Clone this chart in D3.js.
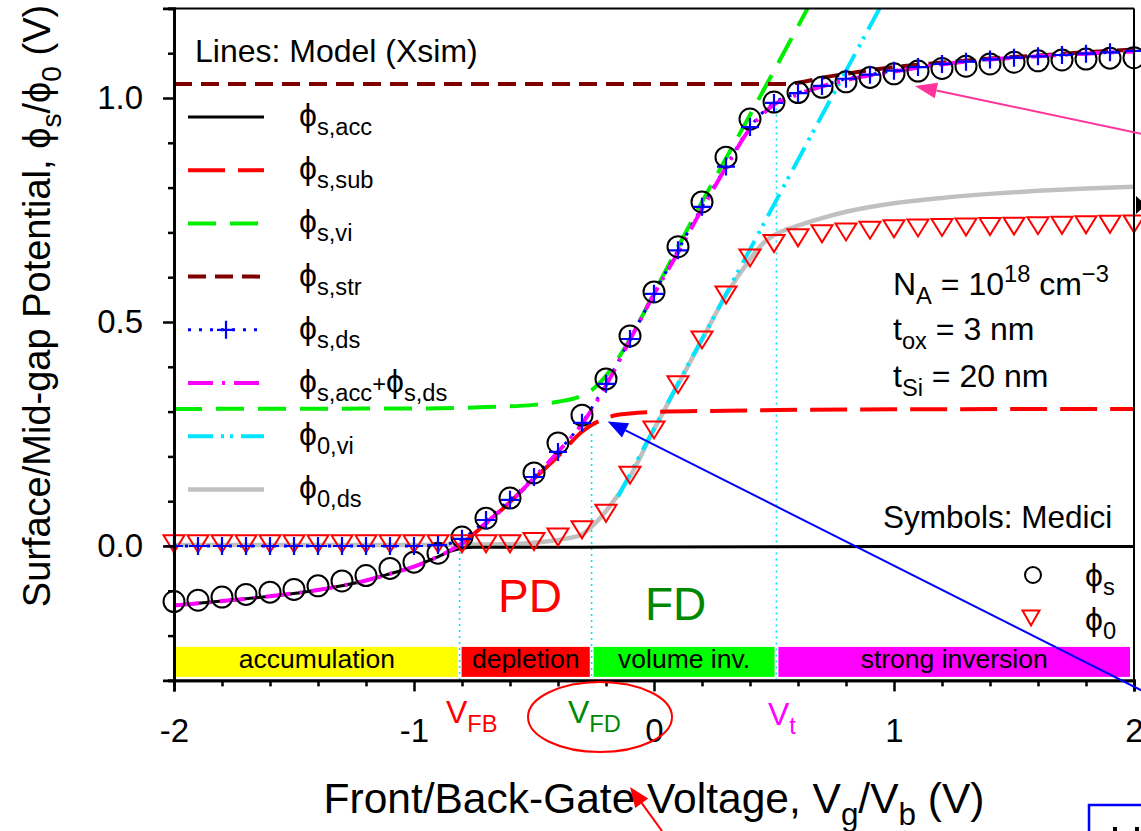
<!DOCTYPE html>
<html>
<head>
<meta charset="utf-8">
<script src="https://cdn.jsdelivr.net/npm/d3@7"></script>
<style>
  html, body { margin: 0; padding: 0; background: #fff; }
  svg { display: block; font-family: "Liberation Sans", Arial, sans-serif; }
</style>
</head>
<body>
<svg id="chart" width="1141" height="831"></svg>
<script>
// ---- Medici device simulation (symbols), sampled every 0.1 V ----
const gateV = [-2.0,-1.9,-1.8,-1.7,-1.6,-1.5,-1.4,-1.3,-1.2,-1.1,-1.0,-0.9,-0.8,-0.7,-0.6,-0.5,-0.4,-0.3,-0.2,-0.1,0.0,0.1,0.2,0.3,0.4,0.5,0.6,0.7,0.8,0.9,1.0,1.1,1.2,1.3,1.4,1.5,1.6,1.7,1.8,1.9,2.0];
const mediciPhiS = [-0.124,-0.121,-0.114,-0.108,-0.103,-0.097,-0.089,-0.078,-0.066,-0.050,-0.036,-0.016,0.020,0.062,0.107,0.163,0.230,0.292,0.373,0.469,0.567,0.668,0.768,0.868,0.953,0.991,1.012,1.024,1.036,1.046,1.054,1.060,1.066,1.071,1.076,1.080,1.083,1.085,1.087,1.089,1.090];
const mediciPhi0 = [0.005,0.005,0.005,0.005,0.005,0.005,0.005,0.005,0.005,0.005,0.005,0.005,0.005,0.005,0.005,0.010,0.020,0.036,0.073,0.158,0.259,0.360,0.460,0.560,0.643,0.675,0.688,0.697,0.701,0.705,0.708,0.710,0.711,0.712,0.713,0.714,0.715,0.716,0.717,0.718,0.719];

// ---- Xsim model curves ----
// phi_s,ds (evaluated on the same 0.1 V grid, drawn with + markers)
const dsPhi = [0,0,0,0,0,0,0,0,0,0,0,0.002,0.016,0.058,0.103,0.154,0.210,0.275,0.362,0.462,0.563,0.660,0.757,0.847,0.935,0.989,1.011,1.027,1.043,1.052,1.061,1.069,1.076,1.081,1.086,1.090,1.093,1.096,1.099,1.102,1.105];

const accGate = [-2.0,-1.8,-1.6,-1.4,-1.2,-1.1,-1.0,-0.9,-0.85,-0.8,-0.75,-0.6,-0.3,0.0,1.0,2.0];
const accPhi  = [-0.133,-0.123,-0.112,-0.098,-0.077,-0.062,-0.046,-0.024,-0.012,-0.005,-0.003,-0.003,-0.003,-0.002,-0.001,-0.001];

const subGate = [-0.81,-0.7,-0.6,-0.5,-0.4,-0.3,-0.26,-0.22,-0.15,-0.1,0.0,0.3,0.6,1.0,2.0];
const subPhi  = [0.0,0.05,0.098,0.15,0.2,0.255,0.27,0.281,0.293,0.296,0.299,0.302,0.304,0.305,0.306];

const viGate = [-2.0,-1.0,-0.7,-0.5,-0.4,-0.3,-0.25,-0.2,-0.15,-0.1,0.0,0.2,0.4,0.6,0.64];
const viPhi  = [0.306,0.307,0.310,0.315,0.322,0.336,0.352,0.38,0.418,0.462,0.565,0.768,0.962,1.16,1.20];

const strGate = [-2.0,0.55,0.6,0.7,0.8,0.9,1.0,1.2,1.4,1.6,1.8,2.0];
const strPhi  = [1.031,1.031,1.034,1.045,1.054,1.062,1.069,1.079,1.088,1.095,1.102,1.108];

const accDsGate = [-2.0,-1.8,-1.6,-1.4,-1.2,-1.1,-1.0,-0.9,-0.85,-0.8,-0.7,-0.6,-0.5,-0.4,-0.3,-0.2,-0.1,0.0,0.1,0.2,0.3,0.4,0.5,0.6,0.7,0.8,1.0,1.2,1.4,1.6,1.8,2.0];
const accDsPhi  = [-0.133,-0.123,-0.112,-0.098,-0.077,-0.062,-0.046,-0.024,-0.010,0.006,0.052,0.098,0.152,0.210,0.272,0.358,0.460,0.562,0.655,0.752,0.845,0.932,0.985,1.008,1.026,1.040,1.059,1.075,1.086,1.093,1.099,1.104];

const ovGate = [-0.15,0.0,0.3,0.6,0.94];
const ovPhi  = [0.11,0.262,0.562,0.862,1.20];

const odGate = [-2.0,-1.0,-0.6,-0.45,-0.35,-0.3,-0.25,-0.2,-0.1,0.0,0.1,0.2,0.3,0.4,0.45,0.5,0.55,0.6,0.7,0.8,1.0,1.2,1.4,1.6,1.8,2.0];
const odPhi  = [0.002,0.002,0.004,0.010,0.018,0.026,0.048,0.078,0.155,0.26,0.36,0.46,0.56,0.64,0.673,0.694,0.706,0.715,0.732,0.746,0.765,0.777,0.786,0.793,0.798,0.802];

// ---- operating regions and characteristic voltages ----
const VFB = -0.81, VFD = -0.26, VT = 0.51;
const regionEdges = [-2.0, VFB, VFD, VT, 2.0];
const regionNames = ["accumulation", "depletion", "volume inv.", "strong inversion"];
const markerVoltages = [VFB, VFD, VT];
const markerTops = [0.0, 0.25, 0.99];

// ---- axis ticks ----
const xMajor = [-2, -1, 0, 1, 2];
const xMinor = [-1.8,-1.6,-1.4,-1.2,-0.8,-0.6,-0.4,-0.2,0.2,0.4,0.6,0.8,1.2,1.4,1.6,1.8];
const yMajor = [0.0, 0.5, 1.0];
const yMinor = [-0.3,-0.2,-0.1,0.1,0.2,0.3,0.4,0.6,0.7,0.8,0.9,1.1,1.2];

// ---- legend entries ----
const legendNames = [
  [["ϕ"],["s,acc","sub"]],
  [["ϕ"],["s,sub","sub"]],
  [["ϕ"],["s,vi","sub"]],
  [["ϕ"],["s,str","sub"]],
  [["ϕ"],["s,ds","sub"]],
  [["ϕ"],["s,acc","sub"],["+","mid"],["ϕ"],["s,ds","sub"]],
  [["ϕ"],["0,vi","sub"]],
  [["ϕ"],["0,ds","sub"]]
];

// ===================== drawing =====================
const svg = d3.select("#chart");
const plot = { left: 174, right: 1134, top: 8.4, bottom: 680.4 };

const x = d3.scaleLinear().domain([-2, 2]).range([plot.left, plot.right]);
const y = d3.scaleLinear().domain([-0.3, 1.2]).range([plot.bottom, plot.top]);

svg.append("defs").append("clipPath").attr("id", "plotClip")
  .append("rect").attr("x", plot.left).attr("y", plot.top)
  .attr("width", plot.right - plot.left).attr("height", plot.bottom - plot.top);

// styles for each curve
const styles = {
  acc:  { color: "#000000", width: 3,   dash: null },
  sub:  { color: "#ff0000", width: 4,   dash: "37,13" },
  vi:   { color: "#00ee00", width: 4,   dash: "28,14" },
  str:  { color: "#800000", width: 4,   dash: "18,9" },
  ds:   { color: "#0000ff", width: 3,   dash: "3,8" },
  accds:{ color: "#ff00ff", width: 4,   dash: "25,9,3,9" },
  ovi:  { color: "#00e5ff", width: 4,   dash: "25,8,3,6,3,8" },
  ods:  { color: "#c0c0c0", width: 4.5, dash: null }
};

function rich(sel, px, py, segs, size, color, anchor) {
  const t = sel.append("text").attr("x", px).attr("y", py)
    .attr("font-size", size).attr("fill", color)
    .attr("text-anchor", anchor || "start");
  let cur = 0;
  segs.forEach(([txt, kind]) => {
    let off = 0, fs = size;
    if (kind === "sub") { off = size * 0.28; fs = size * 0.74; }
    else if (kind === "sup") { off = -size * 0.42; fs = size * 0.74; }
    else if (kind === "mid") { off = 0; fs = size * 0.74; }
    t.append("tspan").attr("dy", off - cur).attr("font-size", fs).text(txt);
    cur = off;
  });
  return t;
}

// region bars
const barTop = y(-0.3) - 33.5, barBot = y(-0.3) - 3.5;
const regionFill = ["#ffff00", "#ff0000", "#00ff00", "#ff00ff"];
const bars = svg.append("g");
regionNames.forEach((name, i) => {
  const x0 = x(regionEdges[i]) + 2, x1 = x(regionEdges[i + 1]) - (i === 3 ? 4 : 1.8);
  bars.append("rect").attr("x", x0).attr("y", barTop).attr("width", x1 - x0).attr("height", barBot - barTop)
    .attr("fill", regionFill[i]);
  bars.append("text").attr("x", (x0 + x1) / 2).attr("y", barBot - 9)
    .attr("text-anchor", "middle").attr("font-size", 26.5).attr("fill", "#000").text(name);
});

// dotted markers of the characteristic voltages
markerVoltages.forEach((v, i) => {
  svg.append("line").attr("x1", x(v)).attr("x2", x(v))
    .attr("y1", y(markerTops[i])).attr("y2", y(-0.3))
    .attr("stroke", "#00e5ff").attr("stroke-width", 1.6).attr("stroke-dasharray", "2,4");
});

// model curves
const curves = svg.append("g").attr("clip-path", "url(#plotClip)");
function curve(gates, vals, st) {
  const line = d3.line().x(d => x(d[0])).y(d => y(d[1])).curve(d3.curveMonotoneX);
  curves.append("path").datum(gates.map((g, i) => [g, vals[i]]))
    .attr("d", line).attr("fill", "none")
    .attr("stroke", st.color).attr("stroke-width", st.width)
    .attr("stroke-dasharray", st.dash)
    .attr("stroke-linecap", st.dash ? "butt" : "round")
    .attr("stroke-linejoin", "round");
}
curve(odGate, odPhi, styles.ods);
curve(ovGate, ovPhi, styles.ovi);
curve(subGate, subPhi, styles.sub);
curve(viGate, viPhi, styles.vi);
curve(strGate, strPhi, styles.str);
curve(accGate, accPhi, styles.acc);
curve(gateV, dsPhi, styles.ds);
curve(accDsGate, accDsPhi, styles.accds);

// Medici symbols
const sym = svg.append("g");
function triPath(cx, cy, w, h) {
  return `M${cx - w / 2},${cy - h / 2}L${cx + w / 2},${cy - h / 2}L${cx},${cy + h / 2}Z`;
}
gateV.forEach((g, i) => {
  sym.append("circle").attr("cx", x(g)).attr("cy", y(mediciPhiS[i])).attr("r", 10.5)
    .attr("fill", "none").attr("stroke", "#000").attr("stroke-width", 2);
});
gateV.forEach((g, i) => {
  sym.append("path").attr("d", triPath(x(g), y(mediciPhi0[i]), 21, 17))
    .attr("fill", "none").attr("stroke", "#ff0000").attr("stroke-width", 2);
});
gateV.forEach((g, i) => {
  const cx = x(g), cy = y(dsPhi[i]);
  sym.append("path").attr("d", `M${cx - 9},${cy}H${cx + 9}M${cx},${cy - 9}V${cy + 9}`)
    .attr("stroke", "#0000ff").attr("stroke-width", 2.2).attr("fill", "none");
});

// frame and axes
const axisG = svg.append("g");
axisG.append("line").attr("x1", plot.left).attr("x2", plot.right).attr("y1", plot.top).attr("y2", plot.top)
  .attr("stroke", "#000").attr("stroke-width", 2);
axisG.append("line").attr("x1", plot.right).attr("x2", plot.right).attr("y1", plot.top).attr("y2", plot.bottom)
  .attr("stroke", "#000").attr("stroke-width", 2);

svg.append("g").attr("transform", `translate(0,${plot.bottom})`)
  .call(d3.axisBottom(x).tickValues(xMajor).tickSize(11).tickPadding(27.5).tickFormat(d => String(d)));
svg.append("g").attr("transform", `translate(0,${plot.bottom})`)
  .call(d3.axisBottom(x).tickValues(xMinor).tickSize(6).tickFormat(""));
svg.append("g").attr("transform", `translate(${plot.left},0)`)
  .call(d3.axisLeft(y).tickValues(yMajor).tickSize(11).tickPadding(20).tickFormat(d3.format(".1f")));
svg.append("g").attr("transform", `translate(${plot.left},0)`)
  .call(d3.axisLeft(y).tickValues(yMinor).tickSize(6).tickFormat(""));
svg.selectAll(".domain").attr("stroke", "#000").attr("stroke-width", 2.8);
svg.selectAll(".tick line").attr("stroke", "#000").attr("stroke-width", 2.5);
svg.selectAll(".tick text").attr("font-size", 33).attr("fill", "#000")
  .attr("font-family", "'Liberation Sans', Arial, sans-serif");

// axis titles
rich(svg, 654, 813, [["Front/Back-Gate Voltage, V"],["g","sub"],["/V"],["b","sub"],[" (V)"]], 42.5, "#000", "middle");
rich(svg.append("g").attr("transform", "translate(50,306) rotate(-90)"), 0, 0,
  [["Surface/Mid-gap Potential, ϕ"],["s","sub"],["/ϕ"],["0","sub"],[" (V)"]], 38, "#000", "middle");

// legend of model lines
svg.append("text").attr("x", 195).attr("y", 62).attr("font-size", 32).attr("fill", "#000").text("Lines: Model (Xsim)");
const legendStyles = [styles.acc, styles.sub, styles.vi, styles.str, styles.ds, styles.accds, styles.ovi, styles.ods];
legendNames.forEach((segs, i) => {
  const ly = 117 + i * 53.2;
  const st = legendStyles[i];
  svg.append("line").attr("x1", 188).attr("x2", 264).attr("y1", ly).attr("y2", ly)
    .attr("stroke", st.color).attr("stroke-width", st.width).attr("stroke-dasharray", st.dash);
  if (i === 4) {
    svg.append("path").attr("d", `M217,${ly}H235M226,${ly - 9}V${ly + 9}`)
      .attr("stroke", "#0000ff").attr("stroke-width", 2.2);
  }
  rich(svg, 299, ly + 9, segs, 32, "#000");
});

// device parameters
rich(svg, 893, 295, [["N"],["A","sub"],[" = 10"],["18","sup"],[" cm"],["−3","sup"]], 32, "#000");
rich(svg, 893, 340, [["t"],["ox","sub"],[" = 3 nm"]], 32, "#000");
rich(svg, 893, 387, [["t"],["Si","sub"],[" = 20 nm"]], 32, "#000");
svg.append("text").attr("x", 883).attr("y", 528).attr("font-size", 31.5).attr("fill", "#000").text("Symbols: Medici");

// symbol legend
svg.append("circle").attr("cx", 1033).attr("cy", 575).attr("r", 8).attr("fill", "none").attr("stroke", "#000").attr("stroke-width", 2);
rich(svg, 1085, 586, [["ϕ"],["s","sub"]], 32, "#000");
svg.append("path").attr("d", triPath(1031, 618, 17, 15)).attr("fill", "none").attr("stroke", "#ff0000").attr("stroke-width", 2);
rich(svg, 1085, 630, [["ϕ"],["0","sub"]], 32, "#000");

// regime labels
svg.append("text").attr("x", 498).attr("y", 612).attr("font-size", 46).attr("fill", "#ff0000").text("PD");
svg.append("text").attr("x", 645).attr("y", 620).attr("font-size", 46).attr("fill", "#008800").text("FD");

// characteristic voltage labels
rich(svg, 446, 723, [["V"],["FB","sub"]], 32, "#ff0000");
rich(svg, 568, 723, [["V"],["FD","sub"]], 32, "#008800");
rich(svg, 768, 725, [["V"],["t","sub"]], 32, "#ff00ff");

// annotations
function arrow(x1, y1, x2, y2, color, w, len, half) {
  const a = Math.atan2(y2 - y1, x2 - x1);
  const bx = x2 - len * Math.cos(a), by = y2 - len * Math.sin(a);
  svg.append("line").attr("x1", x1).attr("y1", y1).attr("x2", bx).attr("y2", by)
    .attr("stroke", color).attr("stroke-width", w);
  const px = -Math.sin(a) * half, py = Math.cos(a) * half;
  svg.append("path").attr("d", `M${x2},${y2}L${bx + px},${by + py}L${bx - px},${by - py}Z`).attr("fill", color);
}
svg.append("ellipse").attr("cx", 600).attr("cy", 717).attr("rx", 72).attr("ry", 35)
  .attr("fill", "none").attr("stroke", "#ff0000").attr("stroke-width", 2);
arrow(x(2.03), y(0.92), x(1.087), y(1.027), "#ff3399", 2, 22, 8);
arrow(x(2.03), y(-0.322), x(-0.193), y(0.278), "#0000ff", 2, 20, 8);
arrow(662, 831, 630, 787, "#ff0000", 2, 20, 8);

// neighbouring panel edges
svg.append("path").attr("d", "M1136,196L1146,205L1136,214Z").attr("fill", "#000");
svg.append("rect").attr("x", 1089).attr("y", 805).attr("width", 80).attr("height", 60)
  .attr("fill", "none").attr("stroke", "#0000ff").attr("stroke-width", 2.5);
svg.append("rect").attr("x", 1113).attr("y", 827).attr("width", 4).attr("height", 4).attr("fill", "#000");
svg.append("rect").attr("x", 1135).attr("y", 827).attr("width", 4).attr("height", 4).attr("fill", "#000");
</script>
</body>
</html>
